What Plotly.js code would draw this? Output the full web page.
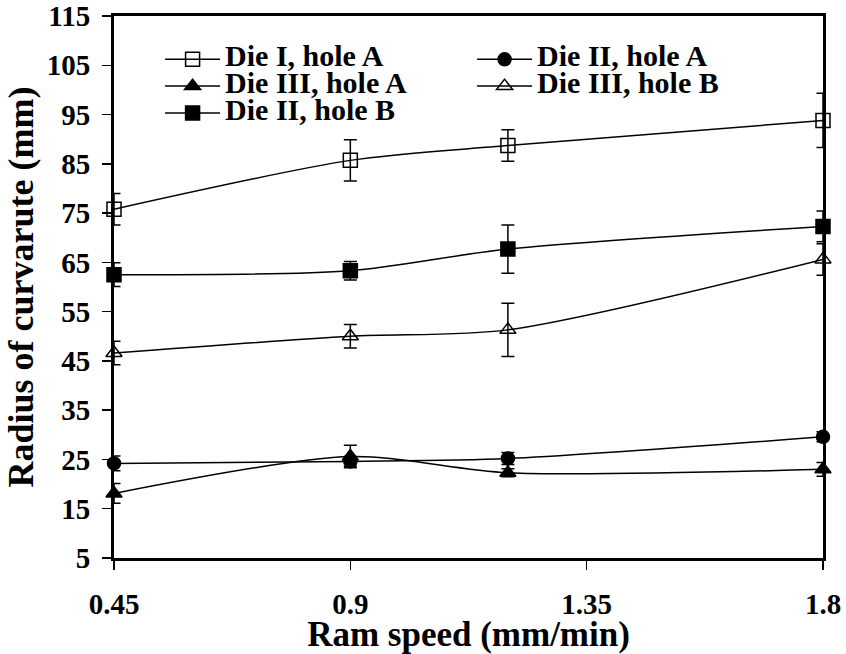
<!DOCTYPE html>
<html>
<head>
<meta charset="utf-8">
<script src="https://cdn.plot.ly/plotly-3.0.1.min.js"></script>
<style>html,body{margin:0;padding:0;background:#fff;}#chart{width:846px;height:654px;}</style>
</head>
<body>
<div id="chart"></div>
<script>
// ---- data ----
var ramSpeed = [0.45, 0.9, 1.2, 1.8];
var xTickVals = [0.45, 0.9, 1.35, 1.8];
var xTickText = ['0.45', '0.9', '1.35', '1.8'];

var dieI_holeA = [75.8, 85.7, 88.7, 93.8];
var dieI_holeA_err = [3.2, 4.2, 3.2, 5.5];
var dieII_holeA = [24.2, 24.6, 25.2, 29.6];
var dieII_holeA_err = [1.5, 1.0, 1.2, 1.0];
var dieIII_holeA = [18.1, 25.6, 22.3, 23.0];
var dieIII_holeA_err = [2.0, 2.3, 0.8, 1.4];
var dieIII_holeB = [46.6, 50.0, 51.3, 65.6];
var dieIII_holeB_err = [2.4, 2.4, 5.4, 3.2];
var dieII_holeB = [62.5, 63.3, 67.7, 72.3];
var dieII_holeB_err = [2.4, 1.9, 4.9, 3.1];

var seriesNames = ['Die I, hole A', 'Die II, hole A', 'Die III, hole A', 'Die III, hole B', 'Die II, hole B'];

// ---- traces ----
function mk(name, y, err, symbol, size) {
  return {
    type: 'scatter', mode: 'lines+markers', name: '<span style="font-size:30px">' + name + '</span>',
    x: ramSpeed, y: y, cliponaxis: false,
    line: {color: '#000', width: 1.5, shape: 'spline', smoothing: 0.8},
    marker: {symbol: symbol, size: size, color: '#000', line: {color: '#000', width: 1.5}},
    error_y: {type: 'data', array: err, visible: true, color: '#000', thickness: 1.5, width: 6.5}
  };
}
var data = [
  mk(seriesNames[0], dieI_holeA, dieI_holeA_err, 'square-open', 14),
  mk(seriesNames[1], dieII_holeA, dieII_holeA_err, 'circle', 13),
  mk(seriesNames[2], dieIII_holeA, dieIII_holeA_err, 'triangle-up', 14),
  mk(seriesNames[3], dieIII_holeB, dieIII_holeB_err, 'triangle-up-open', 14),
  mk(seriesNames[4], dieII_holeB, dieII_holeB_err, 'square', 14)
];

var serif = 'Liberation Serif, Times New Roman, serif';
var layout = {
  width: 846, height: 654,
  margin: {l: 114, r: 23, t: 16, b: 96},
  paper_bgcolor: '#fff', plot_bgcolor: '#fff',
  font: {family: serif, color: '#000', weight: 'bold'},
  showlegend: true,
  legend: {
    orientation: 'h', x: 0.065, y: 0.954, xanchor: 'left', yanchor: 'top',
    font: {family: serif, size: 18.3, color: '#000', weight: 'bold'},
    itemwidth: 55, entrywidth: 242, entrywidthmode: 'pixels',
    bgcolor: 'rgba(0,0,0,0)', borderwidth: 0, traceorder: 'normal'
  },
  xaxis: {
    range: [0.45, 1.8], tickmode: 'array', tickvals: xTickVals, ticktext: xTickText,
    showgrid: false, zeroline: false,
    showline: true, linewidth: 3, linecolor: '#000', mirror: true,
    ticks: 'outside', ticklen: 9, tickwidth: 1.5, tickcolor: '#000',
    ticklabelstandoff: 9,
    tickfont: {family: serif, size: 29, color: '#000', weight: 'bold'},
    title: {text: 'Ram speed (mm/min)', font: {family: serif, size: 35, color: '#000', weight: 'bold'}, standoff: 0}
  },
  yaxis: {
    range: [5, 115], tick0: 5, dtick: 10,
    showgrid: false, zeroline: false,
    showline: true, linewidth: 3, linecolor: '#000', mirror: true,
    ticks: 'outside', ticklen: 9, tickwidth: 1.5, tickcolor: '#000',
    ticklabelstandoff: 6,
    tickfont: {family: serif, size: 29, color: '#000', weight: 'bold'},
    title: {text: 'Radius of curvarute (mm)', font: {family: serif, size: 36, color: '#000', weight: 'bold'}, standoff: 3}
  }
};

Plotly.newPlot('chart', data, layout, {displayModeBar: false, staticPlot: true});
</script>
</body>
</html>
